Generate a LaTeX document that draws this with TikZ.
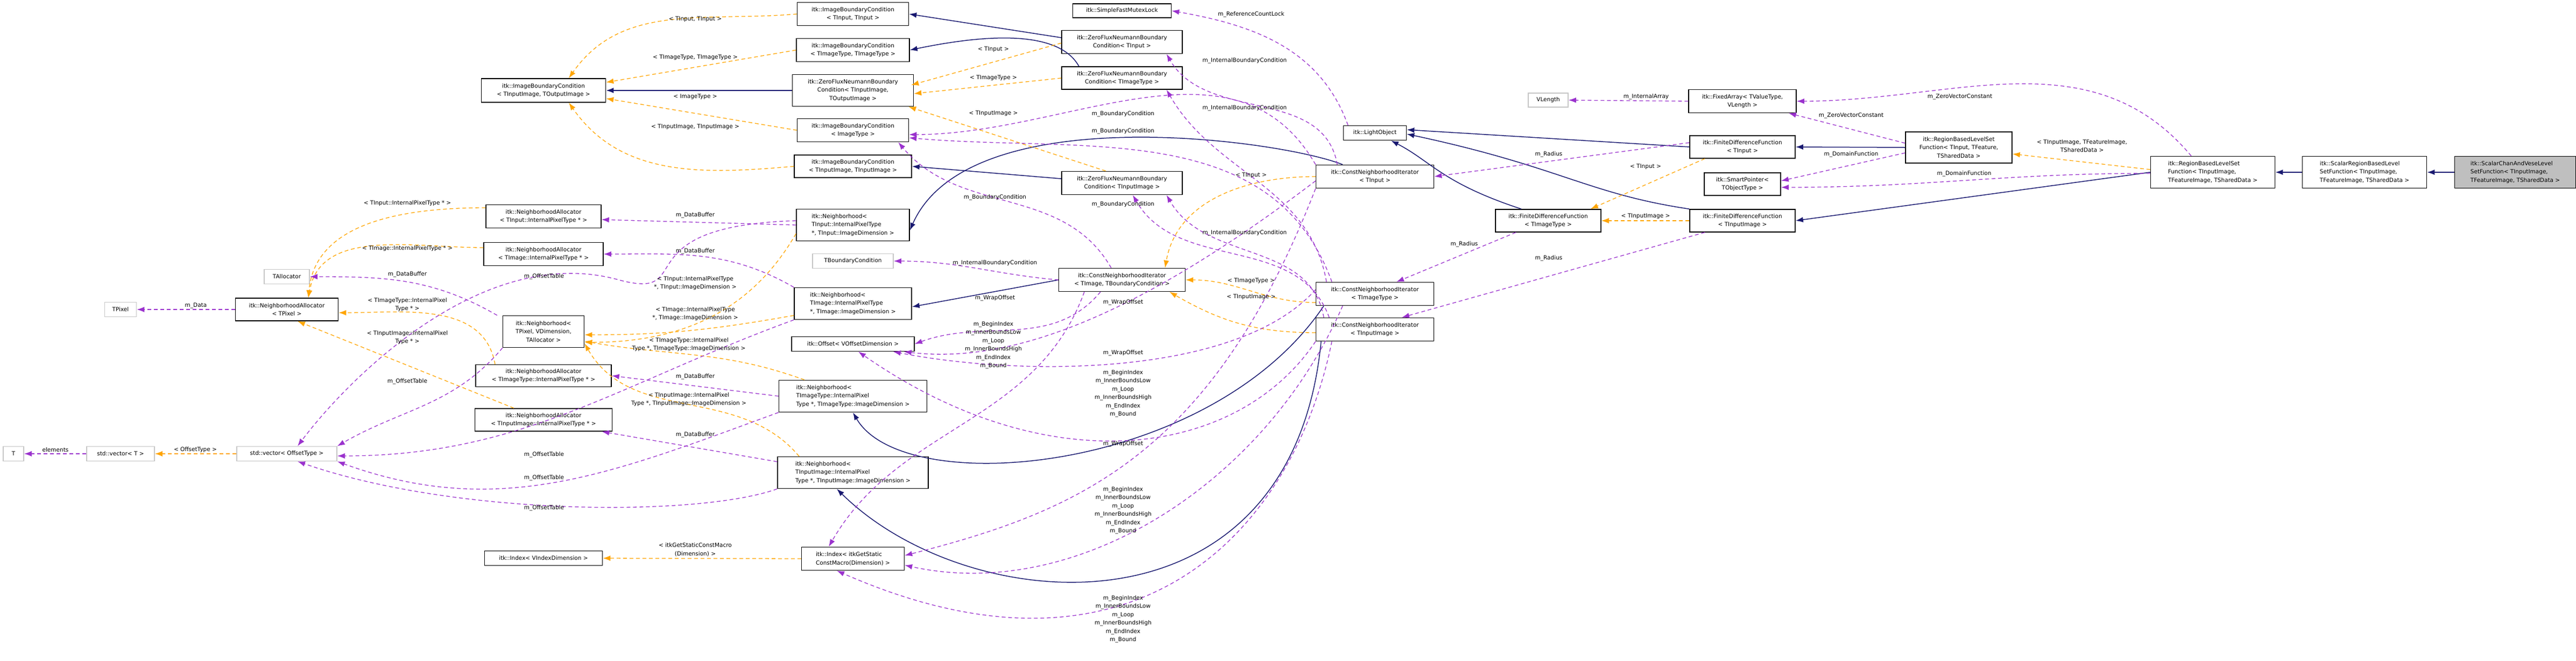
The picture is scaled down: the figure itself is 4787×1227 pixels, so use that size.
\documentclass[tikz,border=0pt]{standalone}
\usepackage{fontspec}
\setmainfont{DejaVu Sans}
\usetikzlibrary{arrows.meta}

\definecolor{inhcol}{HTML}{191970}
\definecolor{usecol}{HTML}{9A32CD}
\definecolor{tplcol}{HTML}{FFA500}

\tikzset{
  box/.style={draw, line width=1.5pt, fill=white, inner sep=2pt, align=center,
    font=\fontsize{10.5}{15.5}\selectfont},
  lbox/.style={box, align=left},
  light/.style={box, draw=gray!45},
  sz/.style 2 args={minimum width=#1pt, minimum height=#2pt},
  lbl/.style={font=\fontsize{10.5}{15.5}\selectfont, align=center, inner sep=1pt},
  inh/.style={draw=inhcol, line width=1.5pt, -{Latex[length=14pt,width=10pt]}},
  use/.style={draw=usecol, line width=1.3pt, dash pattern=on 7pt off 5pt, -{Latex[length=14pt,width=10pt]}},
  tpl/.style={draw=tplcol, line width=1.3pt, dash pattern=on 7pt off 5pt, -{Latex[length=14pt,width=10pt]}}
}

\begin{document}
\begin{tikzpicture}[x=1pt,y=-1pt]
  \useasboundingbox (0,0) rectangle (4787,1227);

  % Draw the leftmost classes
  \node[light, sz={38}{27}] (tT) at (25,843) {T};
  \node[light, sz={126}{27}] (vecT) at (224,843) {std::vector< T >};
  \node[light, sz={186}{27}] (vecOff) at (533,843) {std::vector< OffsetType >};
  \node[light, sz={59}{27}] (tpixel) at (224,575) {TPixel};
  \node[light, sz={84}{27}] (talloc) at (533,514) {TAllocator};
  \node[box, sz={191}{42}] (naPixel) at (533,575) {itk::NeighborhoodAllocator\\< TPixel >};

  % Draw the allocators and neighborhoods
  \node[box, sz={231}{44}] (ibcio) at (1010,168) {itk::ImageBoundaryCondition\\< TInputImage, TOutputImage >};
  \node[box, sz={214}{43}] (naInput) at (1010,402) {itk::NeighborhoodAllocator\\< TInput::InternalPixelType * >};
  \node[box, sz={222}{43}] (naImage) at (1010,472) {itk::NeighborhoodAllocator\\< TImage::InternalPixelType * >};
  \node[box, sz={151}{59}] (nbhPixel) at (1010,616) {itk::Neighborhood<\\TPixel, VDimension,\\TAllocator >};
  \node[box, sz={252}{41}] (naImageType) at (1010,698) {itk::NeighborhoodAllocator\\< TImageType::InternalPixelType * >};
  \node[box, sz={255}{42}] (naInputImage) at (1010,780) {itk::NeighborhoodAllocator\\< TInputImage::InternalPixelType * >};
  \node[box, sz={219}{27}] (idxV) at (1010,1037) {itk::Index< VIndexDimension >};

  \node[box, sz={207}{43}] (ibcInput) at (1585,26) {itk::ImageBoundaryCondition\\< TInput, TInput >};
  \node[box, sz={210}{43}] (ibcImageType) at (1585,93) {itk::ImageBoundaryCondition\\< TImageType, TImageType >};
  \node[box, sz={225}{59}] (zfnio) at (1585,168) {itk::ZeroFluxNeumannBoundary\\Condition< TInputImage,\\TOutputImage >};
  \node[box, sz={207}{43}] (ibcImage) at (1585,242) {itk::ImageBoundaryCondition\\< ImageType >};
  \node[box, sz={218}{42}] (ibcInputImage) at (1585,309) {itk::ImageBoundaryCondition\\< TInputImage, TInputImage >};
  \node[lbox, sz={210}{59}] (nbhInput) at (1585,418) {itk::Neighborhood<\\ TInput::InternalPixelType\\*, TInput::ImageDimension >};
  \node[light, sz={150}{27}] (tbc) at (1585,485) {TBoundaryCondition};
  \node[lbox, sz={218}{59}] (nbhImage) at (1585,564) {itk::Neighborhood<\\ TImage::InternalPixelType\\*, TImage::ImageDimension >};
  \node[box, sz={228}{27}] (offset) at (1585,639) {itk::Offset< VOffsetDimension >};
  \node[lbox, sz={275}{59}] (nbhImageType) at (1585,736) {itk::Neighborhood<\\ TImageType::InternalPixel\\Type *, TImageType::ImageDimension >};
  \node[lbox, sz={280}{59}] (nbhInputImage) at (1585,878) {itk::Neighborhood<\\ TInputImage::InternalPixel\\Type *, TInputImage::ImageDimension >};
  \node[lbox, sz={191}{43}] (idxItk) at (1585,1038) {itk::Index< itkGetStatic\\ConstMacro(Dimension) >};

  % Draw the boundary conditions and iterators
  \node[box, sz={183}{26}] (sfml) at (2085,20) {itk::SimpleFastMutexLock};
  \node[box, sz={224}{43}] (zfnInput) at (2085,78) {itk::ZeroFluxNeumannBoundary\\Condition< TInput >};
  \node[box, sz={224}{42}] (zfnImageType) at (2085,145) {itk::ZeroFluxNeumannBoundary\\Condition< TImageType >};
  \node[box, sz={224}{43}] (zfnInputImage) at (2085,340) {itk::ZeroFluxNeumannBoundary\\Condition< TInputImage >};
  \node[box, sz={235}{43}] (cniTbc) at (2085,520) {itk::ConstNeighborhoodIterator\\< TImage, TBoundaryCondition >};
  \node[box, sz={117}{27}] (lightobj) at (2555,247) {itk::LightObject};
  \node[box, sz={219}{43}] (cniInput) at (2555,328) {itk::ConstNeighborhoodIterator\\< TInput >};
  \node[box, sz={219}{43}] (cniImageType) at (2555,546) {itk::ConstNeighborhoodIterator\\< TImageType >};
  \node[box, sz={219}{43}] (cniInputImage) at (2555,612) {itk::ConstNeighborhoodIterator\\< TInputImage >};

  % Draw the functions
  \node[light, sz={74}{26}] (vlength) at (2877,186) {VLength};
  \node[box, sz={196}{42}] (fdfImageType) at (2877,410) {itk::FiniteDifferenceFunction\\< TImageType >};
  \node[box, sz={200}{43}] (fixarr) at (3238,188) {itk::FixedArray< TValueType,\\VLength >};
  \node[box, sz={196}{42}] (fdfInput) at (3238,273) {itk::FiniteDifferenceFunction\\< TInput >};
  \node[box, sz={142}{42}] (smartp) at (3238,342) {itk::SmartPointer<\\TObjectType >};
  \node[box, sz={196}{42}] (fdfInputImage) at (3238,410) {itk::FiniteDifferenceFunction\\< TInputImage >};
  \node[box, sz={198}{58}] (rblsfInput) at (3640,274) {itk::RegionBasedLevelSet\\Function< TInput, TFeature,\\TSharedData >};
  \node[lbox, sz={231}{59}] (rblsf) at (4112,320) {itk::RegionBasedLevelSet\\Function< TInputImage,\\ TFeatureImage, TSharedData >};
  \node[lbox, sz={231}{59}] (srblsf) at (4394,320) {itk::ScalarRegionBasedLevel\\SetFunction< TInputImage,\\ TFeatureImage, TSharedData >};
  \node[lbox, sz={225}{59}, fill=gray!50] (scav) at (4674,320) {itk::ScalarChanAndVeseLevel\\SetFunction< TInputImage,\\ TFeatureImage, TSharedData >};

  % Inheritance
  \draw[inh] (scav) -- (srblsf);
  \draw[inh] (srblsf) -- (rblsf);
  \draw[inh] (rblsf.west) -- (fdfInputImage.east);
  \draw[inh] (rblsfInput.west) -- (fdfInput.east);
  \draw[inh] (fdfInput.west) -- ([yshift=6pt]lightobj.east);
  \draw[inh] (fdfInputImage.north west) .. controls (2950,360) and (2900,310) .. ([yshift=-2pt]lightobj.east);
  \draw[inh] ([xshift=-50pt]fdfImageType.north) .. controls (2680,340) and (2660,300) .. ([xshift=30pt]lightobj.south);
  \draw[inh] ([xshift=-60pt]cniInput.north) .. controls (2380,260) and (1800,180) .. ([yshift=-10pt]nbhInput.east);
  \draw[inh] (cniTbc.west) -- ([yshift=-6pt]nbhImage.east);
  \draw[inh] ([xshift=-95pt]cniImageType.south) .. controls (2250,880) and (1680,930) .. ([xshift=0pt]nbhImageType.south);
  \draw[inh] ([xshift=-100pt]cniInputImage.south) .. controls (2400,1200) and (1800,1150) .. ([xshift=-30pt]nbhInputImage.south);
  \draw[inh] ([yshift=8pt]zfnInput.west) -- (ibcInput.east);
  \draw[inh] ([xshift=-80pt]zfnImageType.north) .. controls (1970,60) and (1850,60) .. (ibcImageType.east);
  \draw[inh] ([yshift=8pt]zfnInputImage.west) -- (ibcInputImage.east);
  \draw[inh] (zfnio.west) -- (ibcio.east);

  % Template instances
  \draw[tpl] (ibcInput.west) to[out=185,in=55] ([xshift=47pt]ibcio.north);
  \draw[tpl] (ibcImageType.west) -- ([yshift=15pt]ibcio.east);
  \draw[tpl] (ibcImage.west) -- ([yshift=-15pt]ibcio.east);
  \draw[tpl] (ibcInputImage.west) to[out=185,in=-55] ([xshift=47pt]ibcio.south);
  \draw[tpl] ([yshift=-2pt]zfnInput.west) -- ([xshift=-5pt,yshift=10pt]zfnio.east);
  \draw[tpl] (zfnImageType.west) -- ([yshift=-6pt]zfnio.east);
  \draw[tpl] ([xshift=-30pt]zfnInputImage.north) -- ([xshift=-10pt]zfnio.south east);
  \draw[tpl] ([yshift=16pt]naInput.west) to[out=180,in=85] ([xshift=40pt]naPixel.north);
  \draw[tpl] ([yshift=12pt]naImage.west) to[out=180,in=80] ([xshift=40pt]naPixel.north);
  \draw[tpl] ([xshift=-90pt]naImageType.north) to[out=100,in=0] ([yshift=-6pt]naPixel.east);
  \draw[tpl] ([xshift=-55pt]naInputImage.north) -- ([xshift=20pt]naPixel.south);
  \draw[tpl] ([yshift=-16pt]nbhInput.west) to[out=240,in=0] ([yshift=-20pt]nbhPixel.east);
  \draw[tpl] ([yshift=-22pt]nbhImage.west) to[out=190,in=0] ([yshift=-6pt]nbhPixel.east);
  \draw[tpl] ([xshift=-90pt]nbhImageType.north) to[out=160,in=-10] ([yshift=-18pt]nbhPixel.east);
  \draw[tpl] ([xshift=-100pt]nbhInputImage.north) to[out=130,in=-60] ([yshift=-22pt]nbhPixel.east);
  \draw[tpl] (vecOff) -- (vecT);
  \draw[tpl] (idxItk.west) -- (idxV.east);
  \draw[tpl] (cniInput.west) to[out=180,in=80] ([xshift=80pt]cniTbc.north);
  \draw[tpl] ([yshift=-16pt]cniImageType.west) to[out=180,in=0] (cniTbc.east);
  \draw[tpl] ([yshift=-6pt]cniInputImage.west) to[out=180,in=-30] ([xshift=-30pt]cniTbc.south east);
  \draw[tpl] ([xshift=-70pt]fdfInput.south) -- ([xshift=-20pt]fdfImageType.north east);
  \draw[tpl] (fdfInputImage.west) -- (fdfImageType.east);
  \draw[tpl] ([yshift=5pt]rblsf.west) -- ([yshift=-12pt]rblsfInput.east);

  % Members
  \draw[use] (naPixel) -- (tpixel);
  \draw[use] (vecT) -- (tT);
  \draw[use] ([xshift=-10pt]nbhPixel.north west) to[out=150,in=0] (talloc.east);
  \draw[use] (nbhInput.west) -- ([yshift=-6pt]naInput.east);
  \draw[use] (nbhImage.north west) to[out=150,in=0] (naImage.east);
  \draw[use] (nbhImageType.west) -- (naImageType.east);
  \draw[use] ([yshift=-10pt]nbhInputImage.north west) -- ([xshift=-20pt]naInputImage.south east);
  \draw[use] ([yshift=8pt]nbhInput.west) .. controls (1150,420) and (1300,560) .. (1150,520) .. controls (900,450) and (650,700) .. ([xshift=20pt]vecOff.north);
  \draw[use] (nbhPixel.south west) to[out=230,in=30] (vecOff.north east);
  \draw[use] (nbhImage.south west) to[out=200,in=0] ([yshift=-4pt]vecOff.east);
  \draw[use] (nbhImageType.south west) to[out=200,in=-20] (vecOff.south east);
  \draw[use] (nbhInputImage.south west) .. controls (1300,960) and (850,960) .. ([xshift=20pt]vecOff.south);
  \draw[use] ([xshift=-50pt]lightobj.north) to[out=110,in=-10] (sfml.east);
  \draw[use] ([xshift=-70pt]cniInput.north) to[out=100,in=-60] ([xshift=-30pt]zfnInput.south east);
  \draw[use] ([xshift=-90pt]cniImageType.north) to[out=100,in=-60] ([xshift=-30pt]zfnImageType.south east);
  \draw[use] ([xshift=-95pt]cniInputImage.north) to[out=100,in=-60] ([xshift=-30pt]zfnInputImage.south east);
  \draw[use] (cniInput.north west) to[out=120,in=0] ([yshift=-8pt]ibcImage.east);
  \draw[use] ([xshift=-80pt]cniImageType.north) to[out=110,in=-5] ([yshift=-14pt]ibcImage.east);
  \draw[use] ([xshift=-20pt]cniTbc.north) to[out=120,in=-50] ([xshift=-20pt]ibcImage.south east);
  \draw[use] ([xshift=-85pt]cniInputImage.north) to[out=110,in=-60] ([xshift=20pt]zfnInputImage.south);
  \draw[use] (cniTbc.west) to[out=175,in=0] (tbc.east);
  \draw[use] ([xshift=-40pt]cniTbc.south) to[out=230,in=20] (offset.east);
  \draw[use] ([yshift=-8pt]cniInput.west) .. controls (2150,560) and (1900,680) .. ([xshift=-20pt]offset.south east);
  \draw[use] ([yshift=8pt]cniImageType.west) .. controls (2300,700) and (1900,700) .. ([xshift=-40pt]offset.south east);
  \draw[use] (cniInputImage.south west) .. controls (2300,850) and (1950,900) .. ([xshift=10pt]offset.south);
  \draw[use] ([xshift=-70pt]cniTbc.south) to[out=250,in=60] ([xshift=-45pt]idxItk.north);
  \draw[use] (cniInput.south west) .. controls (2250,850) and (2000,950) .. ([yshift=6pt]idxItk.east);
  \draw[use] ([xshift=-60pt]cniImageType.south) .. controls (2350,900) and (2000,1120) .. ([yshift=-12pt]idxItk.east);
  \draw[use] ([xshift=-80pt]cniInputImage.south) .. controls (2400,1000) and (2100,1300) .. ([xshift=-30pt]idxItk.south);
  \draw[use] ([yshift=8pt]fdfInput.west) -- (cniInput.east);
  \draw[use] ([xshift=-60pt]fdfImageType.south) -- ([xshift=40pt]cniImageType.north);
  \draw[use] ([xshift=-70pt]fdfInputImage.south) -- ([xshift=50pt]cniInputImage.north);
  \draw[use] (fixarr.west) -- (vlength.east);
  \draw[use] ([yshift=8pt]rblsfInput.west) -- ([xshift=-15pt]fixarr.south east);
  \draw[use] ([xshift=-40pt]rblsf.north) to[out=130,in=0] (fixarr.east);
  \draw[use] ([yshift=-10pt]rblsfInput.west) -- ([yshift=6pt]smartp.east);
  \draw[use] ([yshift=-2pt]rblsf.west) to[out=180,in=0] ([yshift=-6pt]smartp.east);

  % Edge labels
  \node[lbl] (l01) at (1292,36) {< TInput, TInput >};
  \node[lbl] (l02) at (1292,107) {< TImageType, TImageType >};
  \node[lbl] (l03) at (1292,180) {< ImageType >};
  \node[lbl] (l04) at (1292,236) {< TInputImage, TInputImage >};
  \node[lbl] (l05) at (1846,92) {< TInput >};
  \node[lbl] (l06) at (1846,145) {< TImageType >};
  \node[lbl] (l07) at (1846,211) {< TInputImage >};
  \node[lbl] (l08) at (757,378) {< TInput::InternalPixelType * >};
  \node[lbl] (l09) at (757,462) {< TImage::InternalPixelType * >};
  \node[lbl] (l10) at (757,566) {< TImageType::InternalPixel\\Type * >};
  \node[lbl] (l11) at (757,627) {< TInputImage::InternalPixel\\Type * >};
  \node[lbl] (l12) at (1292,526) {< TInput::InternalPixelType\\*, TInput::ImageDimension >};
  \node[lbl] (l13) at (1292,583) {< TImage::InternalPixelType\\*, TImage::ImageDimension >};
  \node[lbl] (l14) at (1280,640) {< TImageType::InternalPixel\\Type *, TImageType::ImageDimension >};
  \node[lbl] (l15) at (1280,742) {< TInputImage::InternalPixel\\Type *, TInputImage::ImageDimension >};
  \node[lbl] (l16) at (363,836) {< OffsetType >};
  \node[lbl] (l17) at (103,836) {elements};
  \node[lbl] (l18) at (364,568) {m\_Data};
  \node[lbl] (l19) at (757,510) {m\_DataBuffer};
  \node[lbl] (l20) at (1292,400) {m\_DataBuffer};
  \node[lbl] (l21) at (1292,467) {m\_DataBuffer};
  \node[lbl] (l22) at (1292,700) {m\_DataBuffer};
  \node[lbl] (l23) at (1292,808) {m\_DataBuffer};
  \node[lbl] (l24) at (1011,514) {m\_OffsetTable};
  \node[lbl] (l25) at (757,709) {m\_OffsetTable};
  \node[lbl] (l26) at (1011,845) {m\_OffsetTable};
  \node[lbl] (l27) at (1011,888) {m\_OffsetTable};
  \node[lbl] (l28) at (1011,944) {m\_OffsetTable};
  \node[lbl] (l29) at (1292,1021) {< itkGetStaticConstMacro\\(Dimension) >};
  \node[lbl] (l30) at (2325,27) {m\_ReferenceCountLock};
  \node[lbl] (l31) at (2313,113) {m\_InternalBoundaryCondition};
  \node[lbl] (l32) at (2313,201) {m\_InternalBoundaryCondition};
  \node[lbl] (l33) at (2313,433) {m\_InternalBoundaryCondition};
  \node[lbl] (l34) at (2087,212) {m\_BoundaryCondition};
  \node[lbl] (l35) at (2087,244) {m\_BoundaryCondition};
  \node[lbl] (l36) at (1849,367) {m\_BoundaryCondition};
  \node[lbl] (l37) at (2087,380) {m\_BoundaryCondition};
  \node[lbl] (l38) at (1849,489) {m\_InternalBoundaryCondition};
  \node[lbl] (l39) at (1849,554) {m\_WrapOffset};
  \node[lbl] (l40) at (2087,562) {m\_WrapOffset};
  \node[lbl] (l41) at (2087,656) {m\_WrapOffset};
  \node[lbl] (l42) at (2087,825) {m\_WrapOffset};
  \node[lbl] (l43) at (1846,641) {m\_BeginIndex\\m\_InnerBoundsLow\\m\_Loop\\m\_InnerBoundsHigh\\m\_EndIndex\\m\_Bound};
  \node[lbl] (l44) at (2087,731) {m\_BeginIndex\\m\_InnerBoundsLow\\m\_Loop\\m\_InnerBoundsHigh\\m\_EndIndex\\m\_Bound};
  \node[lbl] (l45) at (2087,948) {m\_BeginIndex\\m\_InnerBoundsLow\\m\_Loop\\m\_InnerBoundsHigh\\m\_EndIndex\\m\_Bound};
  \node[lbl] (l46) at (2087,1150) {m\_BeginIndex\\m\_InnerBoundsLow\\m\_Loop\\m\_InnerBoundsHigh\\m\_EndIndex\\m\_Bound};
  \node[lbl] (l47) at (2325,326) {< TInput >};
  \node[lbl] (l48) at (2325,522) {< TImageType >};
  \node[lbl] (l49) at (2325,552) {< TInputImage >};
  \node[lbl] (l50) at (2878,287) {m\_Radius};
  \node[lbl] (l51) at (2721,454) {m\_Radius};
  \node[lbl] (l52) at (2878,480) {m\_Radius};
  \node[lbl] (l53) at (3058,310) {< TInput >};
  \node[lbl] (l54) at (3058,402) {< TInputImage >};
  \node[lbl] (l55) at (3059,180) {m\_InternalArray};
  \node[lbl] (l56) at (3440,215) {m\_ZeroVectorConstant};
  \node[lbl] (l57) at (3642,180) {m\_ZeroVectorConstant};
  \node[lbl] (l58) at (3440,287) {m\_DomainFunction};
  \node[lbl] (l59) at (3650,323) {m\_DomainFunction};
  \node[lbl] (l60) at (3869,271) {< TInputImage, TFeatureImage,\\TSharedData >};
\end{tikzpicture}
\end{document}
